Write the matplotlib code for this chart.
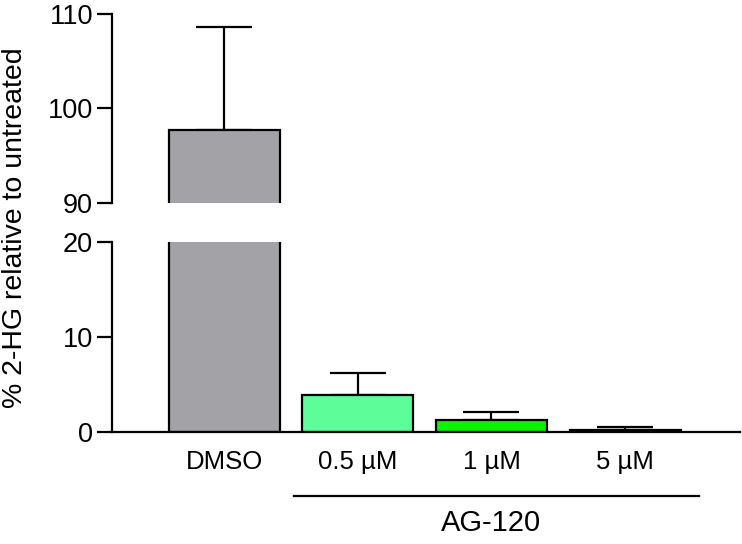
import matplotlib
matplotlib.use("Agg")
from matplotlib import pyplot as plt
import numpy as np

plt.rcParams["font.family"] = ["Liberation Sans", "DejaVu Sans"]

groups = ["DMSO", "0.5 µM", "1 µM", "5 µM"]
means = [97.7, 3.9, 1.3, 0.25]
sems = [10.9, 2.3, 0.85, 0.3]
colors = ["#a3a3a7", "#5dfd9a", "#05f505", "#0a6a0a"]

W, H = 742, 544
fig = plt.figure(figsize=(W / 100, H / 100), dpi=100)


def px_axes(left, top, right, bottom):
    return fig.add_axes([left / W, 1 - bottom / H, (right - left) / W, (bottom - top) / H])


ax_top = px_axes(112, 14, 740, 203)
ax_bot = px_axes(112, 242, 740, 432)

xs = np.arange(len(groups))
lw = 1.6
for ax in (ax_top, ax_bot):
    ax.bar(xs, means, width=0.83, color=colors, edgecolor="black", linewidth=lw, zorder=2)
    ax.errorbar(xs, means, yerr=[np.zeros(len(sems)), sems], fmt="none", ecolor="black",
                elinewidth=lw, capsize=20, capthick=lw, zorder=1)
    ax.set_xlim(-0.84, 3.86)
    for s in ("top", "right"):
        ax.spines[s].set_visible(False)
    ax.spines["left"].set_linewidth(lw)
    ax.tick_params(axis="y", length=10.5, width=lw, labelsize=19.5, pad=3)

ax_top.set_ylim(90, 110)
ax_top.set_yticks([90, 100, 110])
ax_top.spines["bottom"].set_visible(False)
ax_top.set_xticks([])

ax_bot.set_ylim(0, 20)
ax_bot.set_yticks([0, 10, 20])
ax_bot.spines["bottom"].set_linewidth(lw)
ax_bot.set_xticks(xs)
ax_bot.set_xticklabels(groups, fontsize=18.5)
ax_bot.tick_params(axis="x", length=0, pad=13)

trans = ax_bot.get_xaxis_transform()
ax_bot.plot([0.52, 3.55], [-0.337, -0.337], color="black", lw=lw, transform=trans, clip_on=False)
ax_bot.text(2.0, -0.48, "AG-120", transform=trans, ha="center", va="center", fontsize=21)

fig.text(15 / W, 1 - 228 / H, "% 2-HG relative to untreated", rotation=90,
         ha="center", va="center", fontsize=20.5)

fig.savefig("out.png", dpi=100)
